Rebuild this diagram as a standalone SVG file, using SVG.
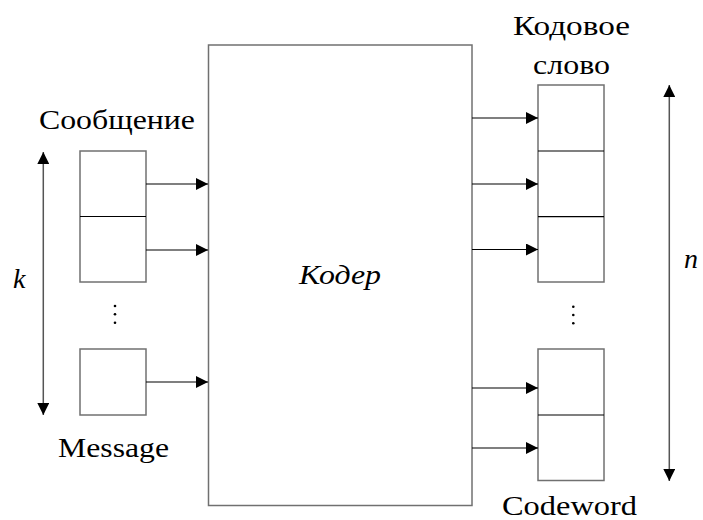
<svg xmlns="http://www.w3.org/2000/svg" width="703" height="520" viewBox="0 0 703 520">
<defs>
<style>
.t{font-size:28px;fill:#000}
.i{font-style:italic}
.box{fill:#fff;stroke:#707070;stroke-width:1.5}
.div{stroke:#000;stroke-width:1.2}
.arr{stroke:#000;stroke-width:1.2;fill:none;marker-end:url(#ah)}
.dim{stroke:#555;stroke-width:1.5;fill:none;marker-start:url(#ahs);marker-end:url(#ah)}
.dot{fill:#000}
</style>
<marker id="ah" markerUnits="userSpaceOnUse" markerWidth="12" markerHeight="12" refX="10" refY="5" orient="auto" viewBox="0 0 10 10">
<path d="M0,0 L10,5 L0,10 Z" fill="#000"/>
</marker>
<marker id="ahs" markerUnits="userSpaceOnUse" markerWidth="12" markerHeight="12" refX="0" refY="5" orient="auto" viewBox="0 0 10 10">
<path d="M10,0 L0,5 L10,10 Z" fill="#000"/>
</marker>
</defs>
<rect width="703" height="520" fill="#fff"/>
<g font-family="Liberation Serif, Tinos, DejaVu Serif, serif">
<g id="encoder">
<rect class="box" x="208.5" y="45" width="263.5" height="460.5"/>
<text class="t i" x="340" y="284" font-size="30" text-anchor="middle" textLength="82" lengthAdjust="spacingAndGlyphs">Кодер</text>
</g>

<g id="message">
<rect class="box" x="80" y="151" width="66" height="131"/>
<line class="div" x1="80" y1="216.5" x2="146" y2="216.5"/>
<rect class="box" x="80" y="349" width="66" height="66"/>
<circle class="dot" cx="115" cy="306" r="1.3"/>
<circle class="dot" cx="115" cy="314.3" r="1.3"/>
<circle class="dot" cx="115" cy="322.7" r="1.3"/>
<text class="t" x="39" y="129" textLength="156" lengthAdjust="spacingAndGlyphs">Сообщение</text>
<text class="t" x="58" y="457" textLength="111" lengthAdjust="spacingAndGlyphs">Message</text>
</g>

<g id="codeword">
<rect class="box" x="538" y="85" width="66" height="197"/>
<line class="div" x1="538" y1="151" x2="604" y2="151"/>
<line class="div" x1="538" y1="216.7" x2="604" y2="216.7"/>
<rect class="box" x="538" y="349" width="66" height="131.5"/>
<line class="div" x1="538" y1="415" x2="604" y2="415"/>
<circle class="dot" cx="573.3" cy="306.7" r="1.3"/>
<circle class="dot" cx="573.3" cy="315" r="1.3"/>
<circle class="dot" cx="573.3" cy="323.3" r="1.3"/>
<text class="t" x="513" y="35" textLength="117" lengthAdjust="spacingAndGlyphs">Кодовое</text>
<text class="t" x="533" y="74" textLength="77" lengthAdjust="spacingAndGlyphs">слово</text>
<text class="t" x="502" y="515" font-size="27" textLength="135" lengthAdjust="spacingAndGlyphs">Codeword</text>
</g>

<g id="k-label">
<text class="t i" x="13" y="288" font-size="31">k</text>
</g>
<g id="n-label">
<text class="t i" x="684" y="268" font-size="32">n</text>
</g>
</g>
<g id="connectors">
<line class="arr" x1="146" y1="184" x2="208" y2="184"/>
<line class="arr" x1="146" y1="250" x2="208" y2="250"/>
<line class="arr" x1="146" y1="382" x2="208" y2="382"/>
<line class="arr" x1="472" y1="118" x2="538" y2="118"/>
<line class="arr" x1="472" y1="184" x2="538" y2="184"/>
<line class="arr" x1="472" y1="249.5" x2="538" y2="249.5"/>
<line class="arr" x1="472" y1="388" x2="538" y2="388"/>
<line class="arr" x1="472" y1="448" x2="538" y2="448"/>
<line class="dim" x1="43.3" y1="152" x2="43.3" y2="415"/>
<line class="dim" x1="669.3" y1="85" x2="669.3" y2="481"/>
</g>
</svg>
